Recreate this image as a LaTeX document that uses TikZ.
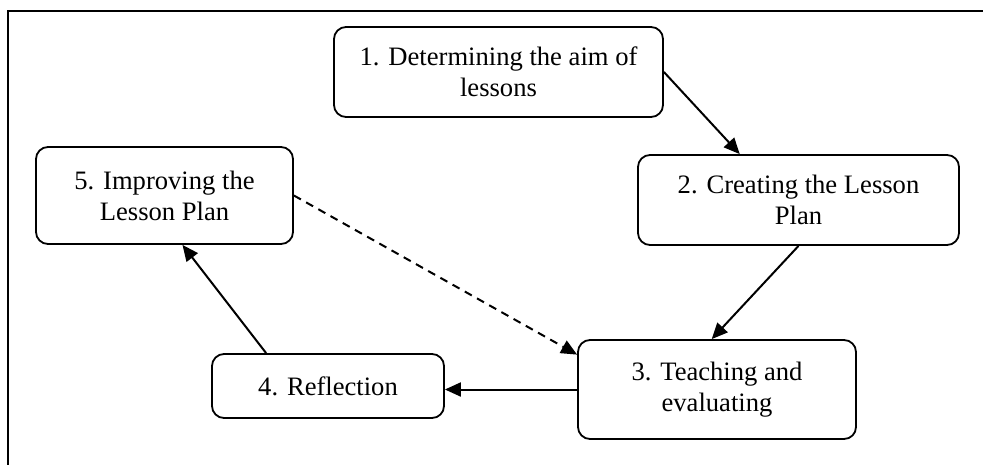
\documentclass[tikz,border=0pt]{standalone}
\usepackage{fontspec}
\setmainfont{Liberation Serif}
\usetikzlibrary{arrows.meta}

\begin{document}
\begin{tikzpicture}[x=0.5pt,y=-0.5pt]
	\useasboundingbox (0,0) rectangle (983,465);
	\draw[line width=1.2pt] (983,11) -- (8,11) -- (8,465);
	\begin{scope}[every node/.style={rectangle,rounded corners=6pt,draw,line width=0.9pt,
	              align=center,inner sep=0pt,font=\fontsize{13.3}{15.5}\selectfont}]
		\node[minimum width=164.5pt,minimum height=45pt] (s1) at (498.5,72) {1. Determining the aim of\\lessons};
		\node[minimum width=160.5pt,minimum height=45pt] (s2) at (798.5,200) {2. Creating the Lesson\\Plan};
		\node[minimum width=139pt,minimum height=49.5pt] (s3) at (717,389.5) {3. Teaching and\\evaluating};
		\node[minimum width=116pt,minimum height=32pt] (s4) at (328,386) {4. Reflection};
		\node[minimum width=128.5pt,minimum height=48.5pt] (s5) at (164.5,195.5) {5. Improving the\\Lesson Plan};
	\end{scope}

	\begin{scope}[>={Triangle[black,length=8pt,width=7pt]},
	              every edge/.style={draw=black,line width=1pt}]
		\path (s1.east) edge[->] (s2.142);
		\path (s2.south) edge[->] (s3.96);
		\path (s3.west) edge[->] (s3.west -| s4.east);
		\path (s4.152) edge[->] (s5.290);
		\path (s5.east) edge[->,dash pattern=on 4pt off 3pt] (s3.166);
	\end{scope}
\end{tikzpicture}
\end{document}
